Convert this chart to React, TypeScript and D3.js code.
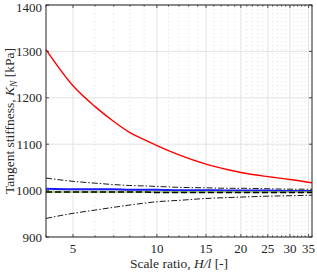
import React, { useRef, useEffect } from 'react';
import * as d3 from 'd3';

// scale ratio H/l
const ratio: number[] = [4, 5, 6, 7, 8, 9, 10, 12, 15, 18, 20, 25, 30, 36];
// tangent stiffness curves [kPa]
const redK: number[] = [1304, 1226, 1181, 1149, 1125, 1110, 1097, 1077, 1057, 1045, 1039, 1030, 1024, 1017];
const upperK: number[] = [1027, 1020, 1016, 1013, 1011, 1010, 1009, 1007, 1006, 1005, 1005, 1004, 1003, 1003];
const lowerK: number[] = [940, 951, 958, 964, 969, 973, 976, 979, 983, 985, 986, 988, 989, 990];
const blueK: number[] = [1004, 1003, 1003, 1003, 1002, 1002, 1002, 1001, 1001, 1000, 1000, 1000, 999, 999];
const greenK: number[] = [997, 997, 997, 997, 997, 997, 997, 997, 997, 997, 997, 997, 997, 997];
const blackK: number[] = [997, 997, 997, 997, 997, 997, 996, 996, 996, 996, 996, 996, 996, 996];

const xTicks: number[] = [5, 10, 15, 20, 25, 30, 35];
const yTicks: number[] = [900, 1000, 1100, 1200, 1300, 1400];

const W = 317;
const H = 273;
const m = { left: 46, top: 5, right: 312, bottom: 237 };
const font = 'Liberation Serif, DejaVu Serif, serif';

const App: React.FC = () => {
  const svgRef = useRef<SVGSVGElement | null>(null);

  useEffect(() => {
    const svg = d3.select(svgRef.current!);
    svg.selectAll('*').remove();

    const x = d3.scaleLog().domain([4, 36]).range([m.left, m.right]);
    const y = d3.scaleLinear().domain([900, 1400]).range([m.bottom, m.top]);

    const minor = d3.range(4, 37).filter((v) => !xTicks.includes(v));

    // grid
    const grid = svg.append('g');
    grid.selectAll('.mx')
      .data(minor)
      .enter()
      .append('line')
      .attr('x1', (d) => x(d)).attr('x2', (d) => x(d))
      .attr('y1', m.top).attr('y2', m.bottom)
      .attr('stroke', '#c8c8c8').attr('stroke-width', 0.6)
      .attr('stroke-dasharray', '1,3');
    grid.selectAll('.gx')
      .data(xTicks)
      .enter()
      .append('line')
      .attr('x1', (d) => x(d)).attr('x2', (d) => x(d))
      .attr('y1', m.top).attr('y2', m.bottom)
      .attr('stroke', '#e3e3e3').attr('stroke-width', 1);
    grid.selectAll('.gy')
      .data(yTicks)
      .enter()
      .append('line')
      .attr('x1', m.left).attr('x2', m.right)
      .attr('y1', (d) => y(d)).attr('y2', (d) => y(d))
      .attr('stroke', '#e3e3e3').attr('stroke-width', 1);

    const line = (vals: number[]) =>
      d3.line<number>()
        .x((_, i) => x(ratio[i]))
        .y((d) => y(d))
        .curve(d3.curveMonotoneX)(vals);

    const addPath = (vals: number[], color: string, w: number, dash?: string) => {
      const p = svg.append('path')
        .attr('d', line(vals)!)
        .attr('fill', 'none')
        .attr('stroke', color)
        .attr('stroke-width', w);
      if (dash) p.attr('stroke-dasharray', dash);
    };

    addPath(upperK, '#000', 0.9, '6,2,1.5,2');
    addPath(lowerK, '#000', 0.9, '6,2,1.5,2');
    addPath(blueK, '#1a1aff', 2);
    addPath(greenK, '#8bc34a', 1.6);
    addPath(blackK, '#000', 1.6, '6,3');
    addPath(redK, '#ff0000', 1.4);

    // box
    svg.append('rect')
      .attr('x', m.left).attr('y', m.top)
      .attr('width', m.right - m.left).attr('height', m.bottom - m.top)
      .attr('fill', 'none').attr('stroke', '#262626').attr('stroke-width', 1);

    // ticks inward
    const ticks = svg.append('g').attr('stroke', '#262626').attr('stroke-width', 0.8);
    xTicks.forEach((v) => {
      ticks.append('line').attr('x1', x(v)).attr('x2', x(v)).attr('y1', m.bottom).attr('y2', m.bottom - 3);
      ticks.append('line').attr('x1', x(v)).attr('x2', x(v)).attr('y1', m.top).attr('y2', m.top + 3);
    });
    minor.forEach((v) => {
      ticks.append('line').attr('x1', x(v)).attr('x2', x(v)).attr('y1', m.bottom).attr('y2', m.bottom - 1.6);
      ticks.append('line').attr('x1', x(v)).attr('x2', x(v)).attr('y1', m.top).attr('y2', m.top + 1.6);
    });
    yTicks.forEach((v) => {
      ticks.append('line').attr('x1', m.left).attr('x2', m.left + 3).attr('y1', y(v)).attr('y2', y(v));
      ticks.append('line').attr('x1', m.right).attr('x2', m.right - 3).attr('y1', y(v)).attr('y2', y(v));
    });

    // tick labels
    svg.append('g').selectAll('text')
      .data(xTicks)
      .enter()
      .append('text')
      .attr('x', (d) => x(d))
      .attr('y', 253)
      .attr('text-anchor', 'middle')
      .attr('font-family', font)
      .attr('font-size', 13)
      .attr('fill', '#262626')
      .text((d) => d);

    svg.append('g').selectAll('text')
      .data(yTicks)
      .enter()
      .append('text')
      .attr('x', 42)
      .attr('y', (d) => Math.max(y(d) + 4.5, 11.5))
      .attr('text-anchor', 'end')
      .attr('font-family', font)
      .attr('font-size', 13)
      .attr('fill', '#262626')
      .text((d) => d);

    // axis labels
    const xl = svg.append('text')
      .attr('x', (m.left + m.right) / 2)
      .attr('y', 268)
      .attr('text-anchor', 'middle')
      .attr('font-family', font)
      .attr('font-size', 13.5)
      .attr('fill', '#262626');
    xl.append('tspan').text('Scale ratio, ');
    xl.append('tspan').attr('font-style', 'italic').text('H/l');
    xl.append('tspan').text(' [-]');

    const yl = svg.append('text')
      .attr('transform', `translate(14,${(m.top + m.bottom) / 2}) rotate(-90)`)
      .attr('text-anchor', 'middle')
      .attr('font-family', font)
      .attr('font-size', 13.5)
      .attr('fill', '#262626');
    yl.append('tspan').text('Tangent stiffness, ');
    yl.append('tspan').attr('font-style', 'italic').text('K');
    yl.append('tspan').attr('font-style', 'italic').attr('font-size', 9.5).attr('dy', 3).text('N');
    yl.append('tspan').attr('dy', -3).text(' [kPa]');
  }, []);

  return (
    <svg
      ref={svgRef}
      width={W}
      height={H}
      style={{ position: 'absolute', left: 0, top: 0, background: '#fff' }}
    ></svg>
  );
};

export default App;
